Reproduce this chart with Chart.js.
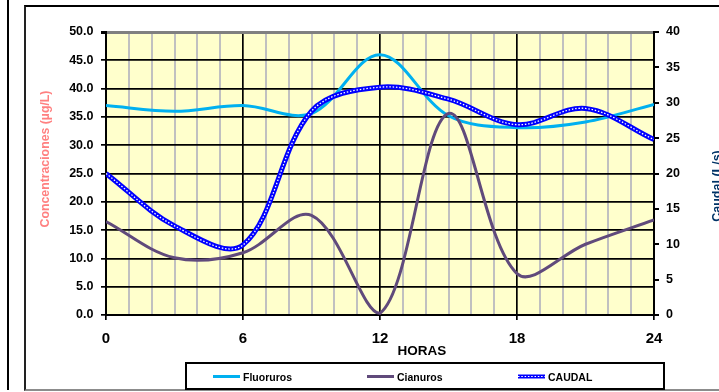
<!DOCTYPE html>
<html><head><meta charset="utf-8">
<script src="https://cdn.jsdelivr.net/npm/chart.js@4.4.1/dist/chart.umd.min.js"></script>
<style>
html,body{margin:0;padding:0;background:#fff;overflow:hidden;}
#wrap{position:relative;width:719px;height:392px;overflow:hidden;}
#frame{position:absolute;left:24px;top:5px;width:760px;height:382px;border-top:2px solid #000;border-left:2px solid #222;border-bottom:2px solid #8c8c8c;}
#side{position:absolute;left:7px;top:0;width:0;height:390px;border-left:2px solid #000;}
canvas{position:absolute;left:0;top:0;}
</style></head>
<body><div id="wrap"><div id="side"></div><div id="frame"></div><canvas id="c" width="719" height="392"></canvas></div>
<script>
// ---- data ----
const hours     = [0, 3, 6, 9, 12, 15, 18, 21, 24];
const fluoruros = [37.0, 36.0, 37.0, 35.6, 46.0, 35.2, 33.1, 34.1, 37.2];
const cianuros  = [16.5, 10.1, 11.0, 17.6, 0.3, 35.6, 7.3, 12.5, 16.8];
const caudal    = [20.0, 12.6, 9.9, 28.8, 32.2, 30.5, 26.9, 29.2, 24.8];
const seriesNames = ['Fluoruros', 'Cianuros', 'CAUDAL'];
const xMajorHours = [0, 6, 12, 18, 24];
const leftAxisTitle = 'Concentraciones (µg/L)';
const rightAxisTitle = 'Caudal (L/s)';
const xAxisTitle = 'HORAS';

const FONT = '"Liberation Sans", Arial, sans-serif';
const pts = vals => hours.map((h, i) => ({x: h, y: vals[i]}));

const bgPlugin = {
  id: 'plotBg',
  beforeDraw(chart) {
    const {ctx, chartArea: a} = chart;
    ctx.save();
    ctx.fillStyle = '#FFFFCC';
    ctx.fillRect(a.left, a.top, a.right - a.left, a.bottom - a.top);
    ctx.restore();
  }
};

const decoPlugin = {
  id: 'deco',
  afterDraw(chart) {
    const {ctx, chartArea: a} = chart;
    ctx.save();
    // axis titles
    ctx.textAlign = 'center';
    ctx.textBaseline = 'middle';
    ctx.font = 'bold 12.3px ' + FONT;
    ctx.fillStyle = '#FF8080';
    ctx.save(); ctx.translate(45.5, a.top + 127); ctx.rotate(-Math.PI / 2);
    ctx.fillText(leftAxisTitle, 0, 0); ctx.restore();
    ctx.font = 'bold 12.5px ' + FONT;
    ctx.fillStyle = '#003366';
    ctx.save(); ctx.translate(a.right + 64, a.top + 154); ctx.rotate(-Math.PI / 2);
    ctx.fillText(rightAxisTitle, 0, 0); ctx.restore();
    ctx.font = 'bold 13.5px ' + FONT;
    ctx.fillStyle = '#000';
    ctx.fillText(xAxisTitle, (a.left + a.right) / 2 + 42, a.bottom + 36.5);

    // legend
    const L = 186, T = 363, R = 664, B = 389;
    ctx.lineWidth = 2; ctx.strokeStyle = '#000';
    ctx.strokeRect(L, T, R - L, B - T);
    const starts = [213, 367, 518];
    const ly = 376.5;
    ctx.font = 'bold 10.5px ' + FONT;
    ctx.textAlign = 'left';
    const ds = chart.data.datasets;
    seriesNames.forEach((name, i) => {
      const x0 = starts[i];
      ctx.setLineDash([]);
      ctx.lineCap = 'butt';
      ctx.strokeStyle = ds[i].borderColor;
      ctx.lineWidth = i === 2 ? 4 : 3;
      ctx.beginPath(); ctx.moveTo(x0, ly); ctx.lineTo(x0 + 27, ly); ctx.stroke();
      if (i === 2) {
        ctx.strokeStyle = '#fff'; ctx.lineWidth = 1.2; ctx.setLineDash(ds[3].borderDash);
        ctx.beginPath(); ctx.moveTo(x0, ly); ctx.lineTo(x0 + 27, ly); ctx.stroke();
        ctx.setLineDash([]);
      }
      ctx.fillStyle = '#000';
      ctx.fillText(name, x0 + 30, ly + 1.5);
    });
    ctx.restore();
  }
};

new Chart(document.getElementById('c'), {
  type: 'line',
  data: {
    datasets: [
      {label: seriesNames[0], data: pts(fluoruros), borderColor: '#00B0F0', borderWidth: 3, yAxisID: 'y', order: 3},
      {label: seriesNames[1], data: pts(cianuros), borderColor: '#604A7B', borderWidth: 3, yAxisID: 'y', order: 2},
      {label: seriesNames[2], data: pts(caudal), borderColor: '#0000FF', borderWidth: 5, yAxisID: 'y1', order: 1},
      {label: '', data: pts(caudal), borderColor: '#FFFFFF', borderWidth: 1.3, borderDash: [1.5, 1.8], yAxisID: 'y1', order: 0}
    ]
  },
  options: {
    responsive: false,
    animation: false,
    devicePixelRatio: 1,
    layout: {padding: {left: 24, top: 32, right: 0, bottom: 0}},
    elements: {point: {radius: 0, hoverRadius: 0}, line: {tension: 0.35, fill: false, capBezierPoints: true}},
    plugins: {legend: {display: false}, tooltip: {enabled: false}},
    scales: {
      x: {
        type: 'linear', min: 0, max: 24,
        afterFit: s => { s.height = 77; },
        ticks: {
          stepSize: 1, autoSkip: false, maxRotation: 0, padding: 9.5,
          color: '#000', font: {family: FONT, size: 15, weight: 'bold'},
          callback: v => xMajorHours.includes(v) ? String(v) : ''
        },
        grid: {
          color: c => xMajorHours.includes(c.tick.value) ? '#000' : '#C0C0C0',
          lineWidth: c => xMajorHours.includes(c.tick.value) ? 1.7 : 2,
          tickColor: c => xMajorHours.includes(c.tick.value) ? '#000' : 'rgba(0,0,0,0)',
          tickLength: 5
        },
        border: {color: '#000', width: 2}
      },
      y: {
        position: 'left', min: 0, max: 50,
        afterFit: s => { s.width = 82; },
        ticks: {stepSize: 5, padding: 7.5, color: '#000', font: {family: FONT, size: 12.5, weight: 'bold'},
          callback: v => v.toFixed(1)},
        grid: {
          color: c => c.tick.value === 50 ? '#808080' : '#000',
          lineWidth: c => c.tick.value === 50 ? 3 : 1.7,
          tickColor: '#000', tickLength: 5
        },
        border: {color: '#000', width: 2}
      },
      y1: {
        position: 'right', min: 0, max: 40,
        afterFit: s => { s.width = 65; },
        ticks: {stepSize: 5, padding: 7, color: '#000', font: {family: FONT, size: 12.5, weight: 'bold'}},
        grid: {drawOnChartArea: false, tickColor: '#000', tickLength: 5, lineWidth: 2},
        border: {color: '#000', width: 2}
      }
    }
  },
  plugins: [bgPlugin, decoPlugin]
});
</script>
</body></html>
